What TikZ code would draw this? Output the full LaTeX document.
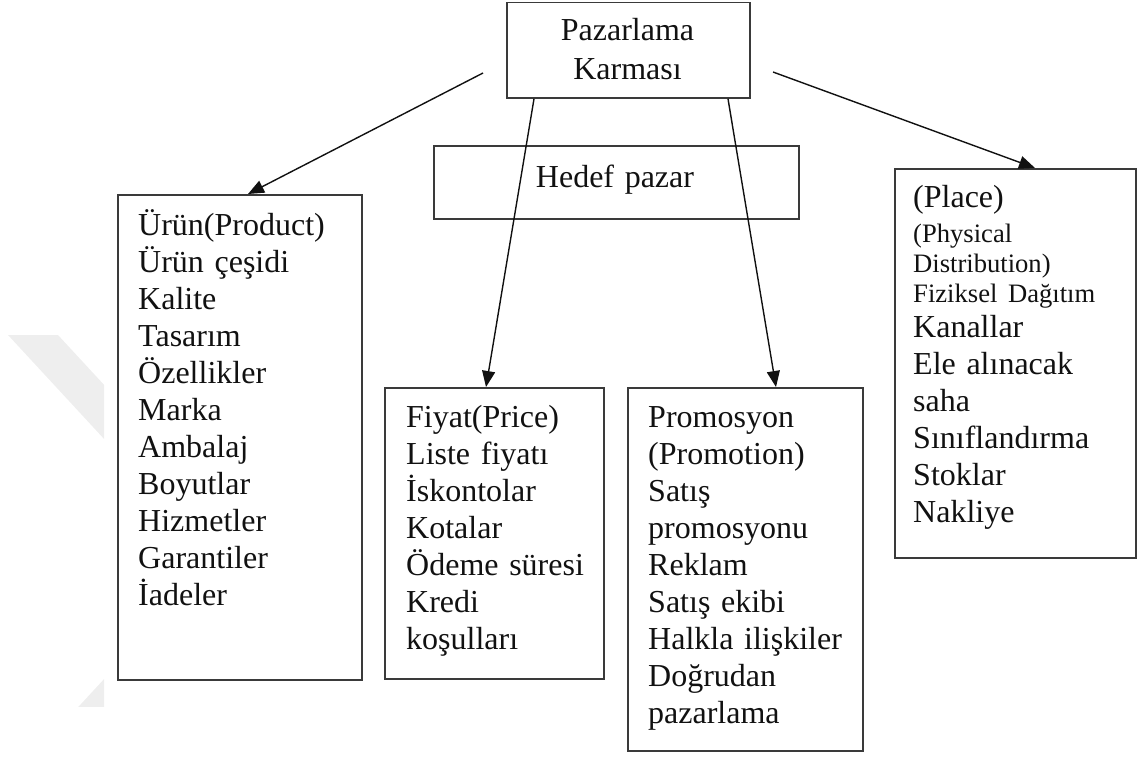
\documentclass[tikz,border=0pt]{standalone}
\usepackage{fontspec}
\setmainfont{Liberation Serif}
\usetikzlibrary{arrows.meta,calc}
\definecolor{ink}{HTML}{111111}
\definecolor{boxgray}{HTML}{3A3A3A}
\definecolor{wm}{HTML}{EEEEEE}
\setlength\parindent{0pt}

\begin{document}
\begin{tikzpicture}[x=1pt,y=-1pt,
  box/.style={draw=boxgray, line width=1.8pt, inner sep=0pt, anchor=north west},
  body/.style={anchor=base west, inner sep=0pt, text width=235pt, align=left,
               font=\fontsize{32}{37}\selectfont, text=ink},
  title/.style={anchor=base, inner sep=0pt, text width=230pt, align=center,
                font=\fontsize{32}{39.5}\selectfont, text=ink},
  link/.style={line width=1.4pt, draw=ink, -{Triangle[length=16pt,width=13pt]}},
]
\useasboundingbox (0,0) rectangle (1137,756);

% faint chevron mark in the left margin
\begin{scope}
  \clip (0,0) rectangle (104,706);
  \fill[wm] (8,335) -- (58,335) -- (265,559) -- (58,783) -- (8,783) -- (215,559) -- cycle;
\end{scope}

% boxes
\node[box, minimum width=243pt, minimum height=95.5pt] (mix) at (506,1.5) {};
\node[box, minimum width=365pt, minimum height=73pt] (target) at (433,145) {};
\node[box, fill=white, minimum width=244pt, minimum height=485pt] (urun) at (117,194) {};
\node[box, minimum width=219pt, minimum height=291pt] (fiyat) at (384,387) {};
\node[box, minimum width=235pt, minimum height=363pt] (promo) at (627,387) {};
\node[box, minimum width=241pt, minimum height=389pt] (place) at (894,168) {};

% texts
\node[title] (mixT) at (627.5,40) {Pazarlama\par Karması};
\node[title] (targetT) at (615,187) {Hedef pazar};

\node[body] (urunT) at (138,235) {Ürün(Product)\\Ürün çeşidi\\Kalite\\Tasarım\\Özellikler\\Marka\\Ambalaj\\Boyutlar\\Hizmetler\\Garantiler\\İadeler};

\node[body] (fiyatT) at (406,427) {Fiyat(Price)\\Liste fiyatı\\İskontolar\\Kotalar\\Ödeme süresi\\Kredi\\koşulları};

\node[body] (promoT) at (648,427) {Promosyon\\(Promotion)\\Satış\\promosyonu\\Reklam\\Satış ekibi\\Halkla ilişkiler\\Doğrudan\\pazarlama};

\node[body] (placeT) at (913,207) {%
  {\fontsize{32}{35}\selectfont (Place)\par}%
  {\fontsize{26.6}{35}\selectfont (Physical\par}%
  {\fontsize{26.6}{30}\selectfont Distribution)\par Fiziksel Dağıtım\par}%
  {\fontsize{32}{35}\selectfont Kanallar\par}%
  {\fontsize{32}{37}\selectfont Ele alınacak\par saha\par Sınıflandırma\par Stoklar\par Nakliye\par}};

% connectors
\coordinate (fromL) at (483,73);
\coordinate (fromR) at (773,72);
\coordinate (fromF) at ($(mix.south west)+(28,0)$);
\coordinate (fromP) at ($(mix.south west)+(222,0)$);
\draw[link] (fromL) -- ($(urun.north west)+(131,0)$);
\draw[link] (fromF) -- ($(fiyat.north west)+(102,0)$);
\draw[link] (fromP) -- ($(promo.north west)+(149,0)$);
\draw[link] (fromR) -- ($(place.north west)+(141,0)$);
\end{tikzpicture}
\end{document}
